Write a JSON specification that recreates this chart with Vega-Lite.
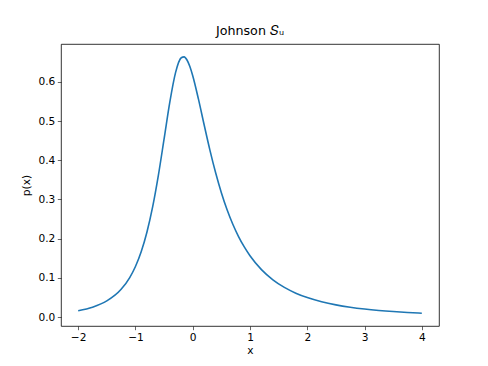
{
  "$schema": "https://vega.github.io/schema/vega-lite/v6.json",
  "autosize": "none",
  "width": 378,
  "height": 282,
  "padding": {"left": 61, "top": 44, "right": 49, "bottom": 40},
  "background": "white",
  "title": {
    "text": "Johnson 𝑆ᵤ",
    "font": "DejaVu Sans",
    "fontSize": 12.7,
    "fontWeight": "normal",
    "color": "black",
    "offset": 6,
    "anchor": "middle"
  },
  "config": {
    "view": {"stroke": "black", "strokeWidth": 0.8},
    "axis": {
      "domain": false,
      "grid": false,
      "tickColor": "black",
      "tickSize": 3.7,
      "tickWidth": 0.6,
      "labelFont": "DejaVu Sans",
      "labelFontSize": 10.6,
      "labelColor": "black",
      "labelPadding": 2.5,
      "titleFont": "DejaVu Sans",
      "titleFontSize": 10.6,
      "titleFontWeight": "normal",
      "titleColor": "black"
    }
  },
  "data": {
    "values": [
      {"x": -2.0, "p": 0.01642},
      {"x": -1.75, "p": 0.02545},
      {"x": -1.5, "p": 0.04131},
      {"x": -1.25, "p": 0.07087},
      {"x": -1.1, "p": 0.10087},
      {"x": -1.0, "p": 0.12915},
      {"x": -0.9, "p": 0.16671},
      {"x": -0.8, "p": 0.21642},
      {"x": -0.7, "p": 0.2809},
      {"x": -0.6, "p": 0.36144},
      {"x": -0.5, "p": 0.45435},
      {"x": -0.4, "p": 0.54821},
      {"x": -0.3, "p": 0.62339},
      {"x": -0.2, "p": 0.66123},
      {"x": -0.15, "p": 0.66359},
      {"x": -0.1, "p": 0.65564},
      {"x": -0.05, "p": 0.63894},
      {"x": 0.0, "p": 0.61542},
      {"x": 0.1, "p": 0.55576},
      {"x": 0.2, "p": 0.48986},
      {"x": 0.3, "p": 0.42595},
      {"x": 0.4, "p": 0.36802},
      {"x": 0.5, "p": 0.31731},
      {"x": 0.6, "p": 0.27382},
      {"x": 0.7, "p": 0.23685},
      {"x": 0.8, "p": 0.20553},
      {"x": 0.9, "p": 0.17902},
      {"x": 1.0, "p": 0.15655},
      {"x": 1.2, "p": 0.12114},
      {"x": 1.4, "p": 0.09517},
      {"x": 1.6, "p": 0.07582},
      {"x": 1.8, "p": 0.06117},
      {"x": 2.0, "p": 0.04992},
      {"x": 2.25, "p": 0.03928},
      {"x": 2.5, "p": 0.03135},
      {"x": 2.75, "p": 0.02533},
      {"x": 3.0, "p": 0.0207},
      {"x": 3.25, "p": 0.01708},
      {"x": 3.5, "p": 0.01422},
      {"x": 3.75, "p": 0.01193},
      {"x": 4.0, "p": 0.01009}
    ]
  },
  "mark": {"type": "line", "color": "#1f77b4", "strokeWidth": 1.6, "interpolate": "monotone"},
  "encoding": {
    "x": {
      "field": "x",
      "type": "quantitative",
      "scale": {"domain": [-2.3, 4.3], "nice": false, "zero": false},
      "axis": {
        "title": "x",
        "values": [-2, -1, 0, 1, 2, 3, 4],
        "labelExpr": "replace(datum.label, '-', '−')",
        "titlePadding": 3
      }
    },
    "y": {
      "field": "p",
      "type": "quantitative",
      "scale": {"domain": [-0.0226, 0.6964], "nice": false, "zero": false},
      "axis": {
        "title": "p(x)",
        "values": [0, 0.1, 0.2, 0.3, 0.4, 0.5, 0.6],
        "format": ".1f",
        "titlePadding": 6
      }
    }
  }
}
